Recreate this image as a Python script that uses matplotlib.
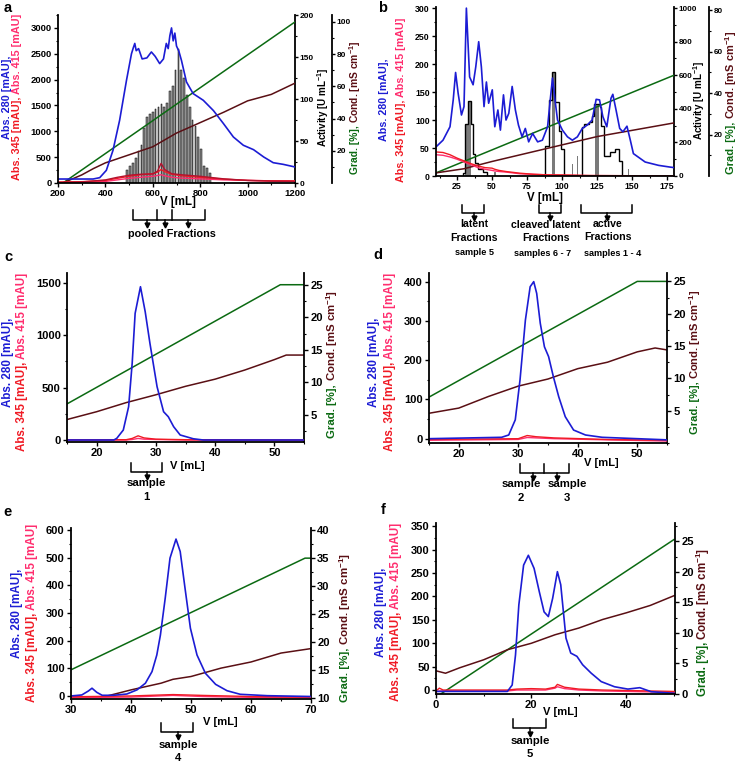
import matplotlib
matplotlib.use('Agg')
import matplotlib.pyplot as plt
from matplotlib.ticker import MultipleLocator, FixedLocator
from matplotlib.transforms import blended_transform_factory

plt.rcParams['font.family'] = ['Liberation Sans', 'DejaVu Sans']
plt.rcParams['font.weight'] = 'bold'
plt.rcParams['mathtext.fontset'] = 'custom'
plt.rcParams['mathtext.bf'] = 'Liberation Sans:bold'
plt.rcParams['mathtext.rm'] = 'Liberation Sans:bold'
plt.rcParams['mathtext.default'] = 'bf'

BLUE = '#1c1cd4'
GREEN = '#0b6a12'
BROWN = '#5a0f14'
RED = '#f01a24'
PINK = '#ff2d6e'
CRIMSON = '#b3122e'

# ---------------- panel a data ----------------
a_v280 = [200, 348, 376, 404, 432, 460, 489, 510, 518, 524, 530, 540, 555, 575, 594, 610, 629, 645,
          657, 665, 672, 679, 686, 693, 700, 710, 721, 742, 770, 813, 856, 898, 940, 982, 1025, 1068,
          1108, 1150, 1200]
a_abs280 = [77, 77, 103, 245, 632, 1213, 1987, 2500, 2620, 2700, 2560, 2600, 2400, 2420, 2535, 2450,
            2310, 2400, 2700, 2600, 2850, 3000, 2750, 2900, 2650, 2550, 2370, 1955, 1730, 1600, 1400,
            1150, 890, 730, 645, 503, 393, 361, 310]
a_vred = [200, 300, 400, 450, 500, 550, 600, 620, 635, 650, 680, 720, 800, 900, 1000, 1100, 1200]
a_abs415 = [10, 20, 60, 110, 150, 170, 175, 230, 380, 260, 180, 160, 130, 80, 50, 35, 30]
a_abs345 = [20, 25, 50, 90, 130, 160, 180, 210, 260, 220, 170, 140, 110, 75, 50, 42, 40]
a_abs345b = [5, 10, 30, 60, 90, 110, 130, 145, 160, 140, 110, 95, 80, 60, 50, 42, 40]
a_vgrad = [200, 221, 1200]
a_grad = [0, 0, 100]
a_vcond = [200, 220, 300, 350, 400, 450, 500, 600, 700, 800, 900, 1000, 1100, 1200]
a_cond = [0, 0, 5, 9, 12.5, 15, 17.5, 22.5, 31, 37.5, 44, 51, 55, 62]
a_frac = [492, 504, 516, 528, 540, 552, 564, 576, 588, 600, 612, 624, 636, 648, 660, 672, 684,
          696, 708, 720, 732, 744, 756, 768, 780, 792, 804, 816, 828, 840]
a_act = [15, 20, 24, 30, 38, 45, 65, 78, 82, 85, 88, 90, 94, 90, 95, 110, 115, 135, 160, 135, 125,
         105, 90, 75, 68, 55, 40, 20, 18, 12]

# ---------------- panel b data ----------------
b_v280 = [10, 15, 20, 22.3, 24, 25.8, 28.2, 30, 31.7, 34, 36.5, 38.4, 40.5, 42.4, 44.3, 46, 47.6,
          50.2, 52, 54.2, 56, 58.2, 60, 62, 64.4, 66.7, 68.9, 71.5, 73.8, 76.2, 79, 82.6, 86, 89.7,
          91.6, 93.2, 95, 96.8, 100.3, 103.9, 107.4, 111, 114.5, 118, 121.5, 124.4, 126.8, 129.2,
          132, 135, 136.3, 138.6, 141.2, 143.5, 146.4, 148.8, 151, 159.4, 169, 177, 180]
b_abs280 = [52, 64, 88, 136, 185, 148, 109, 124, 300, 177, 163, 195, 240, 195, 124, 168, 130, 154,
            88, 118, 82, 145, 100, 112, 160, 118, 91, 70, 85, 61, 76, 61, 64, 88, 136, 175, 136,
            100, 82, 70, 64, 70, 85, 91, 100, 137, 136, 106, 88, 139, 146, 118, 85, 79, 89, 64, 40,
            25, 19, 16, 15]
b_vred = [10, 15, 20, 25, 30, 35, 40, 45, 50, 52, 55, 60, 70, 80, 90, 100, 120, 150, 180]
b_abs345 = [43, 42, 38, 32, 27, 22, 18, 15, 14, 12, 10, 8, 5, 3, 2, 2, 1, 0.5, 0]
b_abs415 = [38, 37, 34, 30, 25, 20, 15, 12, 10, 9, 8, 7, 4, 3, 2, 1, 0.5, 0, 0]
b_vgrad = [10, 180]
b_grad = [1.5, 48.6]
b_vcond = [10, 30, 50, 75, 100, 125, 150, 180]
b_cond = [1.5, 3.5, 7, 11, 15, 19, 22, 25.6]
b_edges1 = [29.2, 30.9, 32.6, 35, 36.4, 38.1, 40, 43.3, 46.4]
b_act1 = [18, 310, 448, 310, 132, 77, 43, 24]
b_edges2 = [88.2, 90.5, 92.5, 95, 97.5, 99.5, 101.5]
b_act2 = [178, 450, 620, 440, 270, 162]
b_edges3 = [114, 116, 119, 121.5, 123.2, 126.8, 128.2, 130, 134.6, 138.1, 141, 143]
b_act3 = [290, 310, 320, 360, 428, 408, 300, 122, 142, 162, 89]
b_gray_x = [31.75, 33.8, 52, 93.7, 107.5, 111, 125, 147.5]
b_gray_h = [310, 448, 24, 620, 73, 122, 428, 43]
b_gray_w = [1.6, 2.3, 1.4, 2.4, 1.2, 1.2, 3.0, 1.4]

# ---------------- panel c data ----------------
c_v280 = [15, 22.9, 23.4, 24.5, 25.4, 26, 26.5, 27.4, 28.2, 29, 30.2, 31.3, 32.1, 33, 34.1, 36.3, 38, 55]
c_abs280 = [0, 0, 16, 95, 318, 732, 1209, 1463, 1224, 922, 509, 270, 222, 127, 48, 12, 0, 0]
c_vred = [15, 25, 26, 27, 28, 30, 35, 55]
c_abs345 = [2, 3, 15, 40, 20, 8, 3, 0]
c_abs415 = [0, 0, 5, 15, 8, 5, 0, -2]
c_vgrad = [15, 51, 55]
c_grad = [6.7, 25, 25]
c_vcond = [15, 20, 25, 30, 35, 40, 45, 50, 52, 55]
c_cond = [4.3, 5.5, 6.9, 8.1, 9.4, 10.5, 11.9, 13.5, 14.2, 14.2]

# ---------------- panel d data ----------------
d_v280 = [15, 27.2, 28.4, 29.5, 30.3, 31.2, 32, 32.6, 33.1, 33.7, 34.4, 35.1, 35.9, 36.8, 37.9,
          39.3, 41.3, 44.1, 50, 55]
d_abs280 = [0, 3.5, 9.4, 48, 150, 302, 387, 400, 370, 294, 234, 209, 158, 107, 56, 22, 9.4, 3.5, 0, -3]
d_vred = [15, 30, 31.5, 33, 36, 45, 55]
d_abs345 = [-2, 0, 8, 5, 2, -2, -4]
d_abs415 = [-4, -2, 3, 2, 0, -3, -6]
d_vgrad = [15, 50, 55]
d_grad = [7.1, 25, 25]
d_vcond = [15, 20, 25, 30, 35, 40, 45, 50, 53, 55]
d_cond = [4.6, 5.4, 7.2, 8.8, 9.9, 11.5, 12.5, 14.1, 14.7, 14.4]

# ---------------- panel e data ----------------
e_v280 = [30, 31.8, 32.9, 33.5, 34.3, 35.2, 37.1, 39.3, 41, 42.4, 43.5, 44.3, 44.9, 45.7, 46.5,
          47.5, 48.2, 49, 49.9, 51, 52.4, 54.1, 56, 58.2, 62.7, 70]
e_abs280 = [0, 3.6, 18, 28, 13, 2.4, 2.4, 7, 22, 46, 88, 148, 220, 353, 498, 567, 522, 390, 245,
            148, 82, 42, 19, 6, 1, -2]
e_vred = [30, 40, 47, 52, 60, 70]
e_abs345 = [-3, 0, 5, 2, -2, -4]
e_abs415 = [-6, -4, 2, -2, -5, -6]
e_vgrad = [30, 69, 70]
e_grad = [15, 35, 35]
e_vcond = [34.9, 40, 45, 47, 50, 55, 60, 65, 70]
e_cond = [10, 11.4, 12.6, 13.3, 13.8, 15.3, 16.4, 18, 18.8]

# ---------------- panel f data ----------------
f_v280 = [0, 15, 16, 16.7, 17.4, 18.4, 19.4, 20.6, 21.7, 22.7, 23.6, 24.5, 25.5, 26.2, 27.3, 28.3,
          29.6, 30.8, 32.6, 34.7, 37.5, 40.3, 42.8, 45.2, 50]
f_abs280 = [-3, -3, 10.7, 75, 182, 267, 288, 260, 210, 167, 157, 196, 253, 225, 111, 79, 72, 54,
            36, 18, 7, 2, 5, -3.6, -7]
f_vred = [0, 0.7, 1.5, 15, 17, 20, 23, 25, 25.5, 27, 30, 35, 50]
f_abs345 = [-2, 4, 0, 0, 2, 3, 2, 6, 12, 6, 2, 0, -3]
f_abs415 = [-4, -2, -2, -2, 0, 0, 0, 4, 7, 3, 0, -2, -5]
f_vgrad = [1, 50]
f_grad = [0, 25.3]
f_vcond = [0, 2, 5, 10, 15, 20, 25, 30, 35, 40, 45, 50]
f_cond = [3.8, 3.4, 4.3, 5.6, 7.25, 8.3, 9.7, 10.8, 12.2, 13.3, 14.5, 16.1]

W, H = 738, 762
fig = plt.figure(figsize=(W / 100, H / 100), dpi=100)
PT = 72 / 100  # points per pixel


def box(l, t, r, b):
    return [l / W, 1 - b / H, (r - l) / W, (b - t) / H]


def fy(p):
    return 1 - p / H


def ticks(ax, side='left', size=7, length=3, pad=1.5):
    ax.tick_params(which='major', direction='out', length=length, width=1.0, labelsize=size, pad=pad)
    ax.tick_params(which='minor', direction='out', length=length * 0.57, width=0.8)
    for s in ax.spines.values():
        s.set_linewidth(1.3)
    ax.spines['top'].set_visible(False)
    if side == 'left':
        ax.spines['right'].set_visible(False)
    else:
        ax.spines['left'].set_visible(False)
        ax.spines['bottom'].set_visible(False)
        ax.tick_params(axis='x', which='both', bottom=False, labelbottom=False)


def vtext(x, yc, parts, size=7, length=None, gap=2.5):
    r = fig.canvas.get_renderer()
    ts = [fig.text(x / W, 0, s, color=c, fontsize=size, rotation=90, ha='center', va='bottom')
          for s, c in parts]
    hs = [t.get_window_extent(r).height for t in ts]
    if length:
        size = size * (length - gap * (len(hs) - 1)) / sum(hs)
        for t in ts:
            t.set_fontsize(size)
        hs = [t.get_window_extent(r).height for t in ts]
    y = yc + (sum(hs) + gap * (len(hs) - 1)) / 2
    for t, h in zip(ts, hs):
        t.set_y(fy(y))
        y -= h + gap
    return size


def bracket(ax, xs, ytop, yline, arrows, ytip):
    tr = blended_transform_factory(ax.transData, fig.transFigure)
    kw = dict(color='k', lw=1.1, transform=tr, clip_on=False)
    ax.plot([xs[0], xs[0], xs[-1], xs[-1]], [fy(ytop), fy(yline), fy(yline), fy(ytop)], **kw)
    for x in xs[1:-1]:
        ax.plot([x, x], [fy(ytop), fy(yline)], **kw)
    for x in arrows:
        ax.plot([x, x], [fy(yline), fy(ytip - 2)], **kw)
        ax.plot([x], [fy(ytip)], marker='v', ms=3.5, color='k', transform=tr, clip_on=False)


def ftext(x, y, s, size=7, **kw):
    fig.text(x / W, fy(y), s, fontsize=size, ha='center', va='center', **kw)


def left_label(xb, xr, yc, length):
    size = vtext(xr, yc, [('Abs. 345 [mAU],', RED), ('Abs. 415 [mAU]', PINK)], length=length)
    vtext(xb, yc, [('Abs. 280 [mAU],', BLUE)], size)


def grad_label(x, yc, length):
    vtext(x, yc, [('Grad. [%],', GREEN), ('Cond. [mS cm$^{-1}$]', BROWN)], length=length)


# ================= panel a =================
ax = fig.add_axes(box(58, 15, 295, 183))
ticks(ax, size=6.8)
act = ax.twinx()
ticks(act, 'right', 6, 2.5, 1)
gc = ax.twinx()
ticks(gc, 'right', 6, 2.5, 1)
gc.spines['right'].set_position(('outward', 37 * PT))
act.bar(a_frac, a_act, width=7, color='#8a8a8a', edgecolor='k', linewidth=0.35, zorder=1)
gc.plot(a_vgrad, a_grad, color=GREEN, lw=1.1)
gc.plot(a_vcond, a_cond, color=BROWN, lw=1.1)
ax.plot(a_vred, a_abs345b, color=PINK, lw=1.0)
ax.plot(a_vred, a_abs345, color=RED, lw=1.0)
ax.plot(a_vred, a_abs415, color=CRIMSON, lw=1.0)
ax.plot(a_v280, a_abs280, color=BLUE, lw=1.2)
ax.set_zorder(3)
ax.patch.set_visible(False)
gc.set_zorder(2)
act.set_zorder(1)
ax.set_xlim(200, 1200)
ax.set_ylim(0, 3250)
act.set_ylim(0, 200)
gc.set_ylim(0, 104.3)
ax.xaxis.set_major_locator(MultipleLocator(200))
ax.xaxis.set_minor_locator(MultipleLocator(100))
ax.yaxis.set_major_locator(MultipleLocator(500))
ax.yaxis.set_minor_locator(MultipleLocator(250))
act.yaxis.set_major_locator(MultipleLocator(50))
act.yaxis.set_minor_locator(MultipleLocator(25))
gc.yaxis.set_major_locator(FixedLocator([20, 40, 60, 80, 100]))
gc.yaxis.set_minor_locator(FixedLocator([10, 30, 50, 70, 90]))
left_label(7.5, 17.5, 97, 167)
vtext(323, 107, [('Activity [U mL$^{-1}$]', 'k')], length=80)
grad_label(355, 107, 133)
ftext(178, 202, 'V [mL]', 8.3)
bracket(ax, [516, 618, 681, 820], 210, 220, [575, 651, 749], 225)
ftext(172, 234, 'pooled Fractions', 7.8)

# ================= panel b =================
ax = fig.add_axes(box(436, 7, 674, 176))
ticks(ax, size=6.3)
act = ax.twinx()
ticks(act, 'right', 5.8, 2.5, 1)
gc = ax.twinx()
ticks(gc, 'right', 5.8, 2.5, 1)
gc.spines['right'].set_position(('outward', 35 * PT))
act.bar(b_gray_x, b_gray_h, width=b_gray_w, color='#7a7a7a', edgecolor='none', zorder=1)
for e, v in [(b_edges1, b_act1), (b_edges2, b_act2), (b_edges3, b_act3)]:
    act.stairs(v, e, color='k', lw=1.0, baseline=0, zorder=2)
gc.plot(b_vgrad, b_grad, color=GREEN, lw=1.1)
gc.plot(b_vcond, b_cond, color=BROWN, lw=1.1)
ax.plot(b_vred, b_abs415, color=PINK, lw=1.0)
ax.plot(b_vred, b_abs345, color=RED, lw=1.0)
ax.plot(b_v280, b_abs280, color=BLUE, lw=1.2)
ax.set_zorder(3)
ax.patch.set_visible(False)
gc.set_zorder(2)
act.set_zorder(1)
ax.set_xlim(10, 180)
ax.set_ylim(0, 302)
act.set_ylim(0, 1006)
gc.set_ylim(0, 81.5)
ax.xaxis.set_major_locator(MultipleLocator(25))
ax.xaxis.set_minor_locator(MultipleLocator(12.5))
ax.yaxis.set_major_locator(MultipleLocator(50))
ax.yaxis.set_minor_locator(MultipleLocator(25))
act.yaxis.set_major_locator(MultipleLocator(200))
act.yaxis.set_minor_locator(MultipleLocator(100))
gc.yaxis.set_major_locator(FixedLocator([20, 40, 60, 80]))
gc.yaxis.set_minor_locator(FixedLocator([10, 30, 50, 70]))
left_label(384, 401, 100, 164)
vtext(699.5, 100, [('Activity [U mL$^{-1}$]', 'k')], length=80)
grad_label(731, 102, 143)
ftext(545, 198, 'V [mL]', 8.3)
bracket(ax, [28.9, 44.3], 205, 212.7, [37], 218)
bracket(ax, [83.3, 99.2], 205, 212.7, [91.6], 218)
bracket(ax, [113.3, 150], 205, 212.7, [131.8], 218)
ftext(474, 224, 'latent', 7.6)
ftext(474, 238, 'Fractions', 7.6)
ftext(474, 252, 'sample 5', 6.6)
ftext(546, 225, 'cleaved latent', 7.6)
ftext(546, 238, 'Fractions', 7.6)
ftext(543, 253, 'samples 6 - 7', 6.6)
ftext(608, 224, 'active', 7.6)
ftext(608, 237, 'Fractions', 7.6)
ftext(613, 253, 'samples 1 - 4', 6.6)


# ================= panels c-f =================
def chrom(bx, xlim, ylim, rlim, v280, a280, vred, a345, a415, vg, g, vc, c):
    ax = fig.add_axes(box(*bx))
    ticks(ax, size=8)
    gc = ax.twinx()
    ticks(gc, 'right', 8)
    gc.plot(vg, g, color=GREEN, lw=1.1)
    gc.plot(vc, c, color=BROWN, lw=1.1)
    ax.plot(vred, a415, color=PINK, lw=1.0)
    ax.plot(vred, a345, color=RED, lw=1.0)
    ax.plot(v280, a280, color=BLUE, lw=1.2)
    ax.set_zorder(3)
    ax.patch.set_visible(False)
    ax.set_xlim(*xlim)
    ax.set_ylim(*ylim)
    gc.set_ylim(*rlim)
    return ax, gc


ax, gc = chrom((67, 273, 304, 442), (15, 55), (-19, 1594), (0.85, 26.8), c_v280, c_abs280,
               c_vred, c_abs345, c_abs415, c_vgrad, c_grad, c_vcond, c_cond)
ax.xaxis.set_major_locator(MultipleLocator(10))
ax.xaxis.set_minor_locator(MultipleLocator(5))
ax.yaxis.set_major_locator(MultipleLocator(500))
ax.yaxis.set_minor_locator(MultipleLocator(250))
gc.yaxis.set_major_locator(FixedLocator([5, 10, 15, 20, 25]))
gc.yaxis.set_minor_locator(MultipleLocator(2.5))
left_label(8.5, 21.7, 362, 177)
grad_label(332, 364, 148)
ftext(187, 466, 'V [mL]', 8)
bracket(ax, [25.8, 31.1], 462.7, 471.7, [28.5], 477)
ftext(146, 483, 'sample', 8.2)
ftext(146, 497, '1', 8.2)

ax, gc = chrom((429, 273, 667, 443), (15, 55), (-11, 422), (0, 26.3), d_v280, d_abs280,
               d_vred, d_abs345, d_abs415, d_vgrad, d_grad, d_vcond, d_cond)
ax.xaxis.set_major_locator(MultipleLocator(10))
ax.xaxis.set_minor_locator(MultipleLocator(5))
ax.yaxis.set_major_locator(MultipleLocator(100))
ax.yaxis.set_minor_locator(MultipleLocator(50))
gc.yaxis.set_major_locator(FixedLocator([5, 10, 15, 20, 25]))
gc.yaxis.set_minor_locator(MultipleLocator(2.5))
left_label(374, 390, 362, 177)
grad_label(695, 362, 145)
ftext(601, 463, 'V [mL]', 8)
bracket(ax, [30.3, 34.4, 38.5], 464, 472.7, [32.5, 36.5], 478)
ftext(521, 484, 'sample', 8.2)
ftext(521, 498, '2', 8.2)
ftext(567, 484, 'sample', 8.2)
ftext(567, 498, '3', 8.2)

ax, gc = chrom((71, 528, 311, 699), (30, 70), (-11, 607), (9.77, 40.4), e_v280, e_abs280,
               e_vred, e_abs345, e_abs415, e_vgrad, e_grad, e_vcond, e_cond)
ax.xaxis.set_major_locator(MultipleLocator(10))
ax.xaxis.set_minor_locator(MultipleLocator(5))
ax.yaxis.set_major_locator(MultipleLocator(100))
ax.yaxis.set_minor_locator(MultipleLocator(50))
gc.yaxis.set_major_locator(MultipleLocator(5))
gc.yaxis.set_minor_locator(MultipleLocator(2.5))
left_label(16.7, 31.7, 613, 177)
grad_label(345, 627, 149)
ftext(220, 722, 'V [mL]', 8)
bracket(ax, [45, 50.3], 723.3, 731.7, [47.8], 737)
ftext(178, 745, 'sample', 8.2)
ftext(178, 758, '4', 8.2)

ax, gc = chrom((436, 523, 675, 694), (0, 50.2), (-8.5, 357), (0, 28), f_v280, f_abs280,
               f_vred, f_abs345, f_abs415, f_vgrad, f_grad, f_vcond, f_cond)
ax.xaxis.set_major_locator(MultipleLocator(20))
ax.xaxis.set_minor_locator(MultipleLocator(10))
ax.yaxis.set_major_locator(MultipleLocator(50))
ax.yaxis.set_minor_locator(MultipleLocator(25))
gc.yaxis.set_major_locator(MultipleLocator(5))
gc.yaxis.set_minor_locator(MultipleLocator(2.5))
left_label(381, 396, 612, 178)
grad_label(703, 622, 150)
ftext(560, 712, 'V [mL]', 8)
bracket(ax, [16.2, 23.1], 719, 728.3, [19.8], 734)
ftext(530, 741, 'sample', 8.2)
ftext(530, 754, '5', 8.2)

for s, x, y in [('a', 8, 8), ('b', 383, 8), ('c', 8, 257), ('d', 378, 255), ('e', 7, 512), ('f', 383, 510)]:
    ftext(x, y, s, 10.5)

fig.savefig('out.png', dpi=100)
